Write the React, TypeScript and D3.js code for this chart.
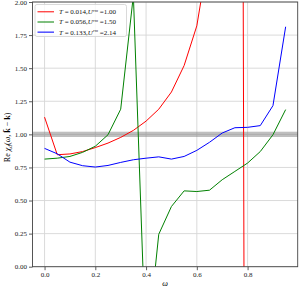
import React, { useEffect, useRef } from "react";
import * as d3 from "d3";

const omega = [0, 0.05, 0.1, 0.15, 0.2, 0.25, 0.3, 0.35, 0.4, 0.45, 0.5, 0.55, 0.6, 0.65, 0.7, 0.75, 0.8, 0.85, 0.9, 0.95];

const redValues = [1.13, 0.846, 0.852, 0.87, 0.9, 0.934, 0.977, 1.03, 1.1, 1.19, 1.32, 1.52, 1.82, 2.4, 4.2, 25, -10, -3, -1.5, -1];
const greenValues = [0.813, 0.82, 0.833, 0.864, 0.91, 0.997, 1.19, 2.05, -0.68, 0.245, 0.455, 0.573, 0.568, 0.578, 0.657, 0.72, 0.783, 0.87, 0.997, 1.187];
const blueValues = [0.894, 0.853, 0.79, 0.763, 0.753, 0.765, 0.788, 0.808, 0.82, 0.83, 0.813, 0.833, 0.879, 0.94, 1.01, 1.05, 1.053, 1.066, 1.217, 1.813];

const seriesColors = ["#ff0000", "#008000", "#0000ff"];
const seriesT = ["0.014", "0.056", "0.133"];
const seriesU = ["1.00", "1.50", "2.14"];

const xTicks = [0, 0.2, 0.4, 0.6, 0.8];
const yTicks = [0, 0.25, 0.5, 0.75, 1, 1.25, 1.5, 1.75, 2];

const W = 299;
const H = 287;
const margin = { left: 32.5, right: 1.3, top: 2, bottom: 20.3 };
const serif = "'Liberation Serif', 'Times New Roman', serif";

export default function App() {
  const svgRef = useRef<SVGSVGElement>(null);

  useEffect(() => {
    const svg = d3.select(svgRef.current);
    svg.selectAll("*").remove();

    const x = d3.scaleLinear().domain([-0.0475, 0.9975]).range([margin.left, W - margin.right]);
    const y = d3.scaleLinear().domain([0, 2]).range([H - margin.bottom, margin.top]);

    const [x0, x1] = x.range();
    const [y0, y1] = y.range();

    svg.append("defs").append("clipPath").attr("id", "plot-clip")
      .append("rect").attr("x", x0).attr("y", y1).attr("width", x1 - x0).attr("height", y0 - y1);

    // grid
    const grid = svg.append("g");
    grid.selectAll("line.gx").data(xTicks).join("line")
      .attr("x1", d => x(d)).attr("x2", d => x(d))
      .attr("y1", y1).attr("y2", y0)
      .attr("stroke", "#d6d6d6").attr("stroke-width", 0.9);
    grid.selectAll("line.gy").data(yTicks).join("line")
      .attr("x1", x0).attr("x2", x1)
      .attr("y1", d => y(d)).attr("y2", d => y(d))
      .attr("stroke", "#d6d6d6").attr("stroke-width", 0.9);

    // band around 1
    svg.append("rect")
      .attr("x", x0).attr("width", x1 - x0)
      .attr("y", y(1.02)).attr("height", y(0.98) - y(1.02))
      .attr("fill", "#808080").attr("opacity", 0.5);

    const line = d3.line<number>().x((_, i) => x(omega[i])).y(d => y(d));
    const plot = svg.append("g").attr("clip-path", "url(#plot-clip)");
    [redValues, greenValues, blueValues].forEach((vals, i) => {
      plot.append("path")
        .attr("d", line(vals))
        .attr("fill", "none")
        .attr("stroke", seriesColors[i])
        .attr("stroke-width", 1);
    });

    // axes
    const xAxis = svg.append("g").attr("transform", `translate(0,${y0})`)
      .call(d3.axisBottom(x).tickValues(xTicks).tickFormat(d3.format(".1f")).tickSize(3.5).tickSizeOuter(0));
    const yAxis = svg.append("g").attr("transform", `translate(${x0},0)`)
      .call(d3.axisLeft(y).tickValues(yTicks).tickFormat(d3.format(".2f")).tickSize(3.5).tickSizeOuter(0));
    [xAxis, yAxis].forEach(a => {
      a.select(".domain").remove();
      a.selectAll("line").attr("stroke", "#333").attr("stroke-width", 0.8);
      a.selectAll("text").attr("font-family", serif).attr("font-size", 7).attr("fill", "#222");
    });
    xAxis.selectAll("text").attr("dy", "0.71em").attr("y", 5.5);
    yAxis.selectAll("text").attr("x", -5.5);

    svg.append("rect")
      .attr("x", x0).attr("y", y1).attr("width", x1 - x0).attr("height", y0 - y1)
      .attr("fill", "none").attr("stroke", "#444").attr("stroke-width", 0.9);

    // axis labels
    svg.append("text")
      .attr("x", (x0 + x1) / 2).attr("y", 285.5)
      .attr("text-anchor", "middle")
      .attr("font-family", serif).attr("font-size", 8).attr("font-style", "italic")
      .text("ω");

    const yl = svg.append("text")
      .attr("transform", `translate(9.5,${(y0 + y1) / 2 + 3}) rotate(-90)`)
      .attr("text-anchor", "middle")
      .attr("font-family", serif).attr("font-size", 8);
    yl.append("tspan").text("Re ");
    yl.append("tspan").attr("font-style", "italic").text("χ");
    yl.append("tspan").attr("font-style", "italic").attr("font-size", 5.5).attr("dy", 2).text("d");
    yl.append("tspan").attr("dy", -2).text("(");
    yl.append("tspan").attr("font-style", "italic").text("ω");
    yl.append("tspan").text(", ");
    yl.append("tspan").attr("font-weight", "bold").text("k\u0304");
    yl.append("tspan").text(" − ");
    yl.append("tspan").attr("font-weight", "bold").text("k");
    yl.append("tspan").text(")");

    // legend
    const lg = svg.append("g");
    lg.append("rect")
      .attr("x", 35).attr("y", 4.5).attr("width", 91.5).attr("height", 32)
      .attr("rx", 2).attr("fill", "#fff").attr("fill-opacity", 0.8)
      .attr("stroke", "#d0d0d0").attr("stroke-width", 0.8);
    seriesColors.forEach((c, i) => {
      const cy = 11.8 + i * 10.2;
      lg.append("line")
        .attr("x1", 37.5).attr("x2", 54).attr("y1", cy).attr("y2", cy)
        .attr("stroke", c).attr("stroke-width", i === 2 ? 1.6 : 1)
        .attr("opacity", i === 2 ? 0.65 : 1);
      const t = lg.append("text")
        .attr("x", 59).attr("y", cy + 2.4)
        .attr("font-family", serif).attr("font-size", 7).attr("fill", "#111");
      t.append("tspan").attr("font-style", "italic").text("T");
      t.append("tspan").text(` = ${seriesT[i]},`);
      t.append("tspan").attr("font-style", "italic").text("U");
      t.append("tspan").attr("font-style", "italic").attr("font-size", 4.5).attr("dy", -2.5).text("rm");
      t.append("tspan").attr("dy", 2.5).text(` =${seriesU[i]}`);
    });
  }, []);

  return (
    <div style={{ position: "absolute", left: 0, top: 0 }}>
      <svg ref={svgRef} width={W} height={H} style={{ display: "block" }}></svg>
    </div>
  );
}
